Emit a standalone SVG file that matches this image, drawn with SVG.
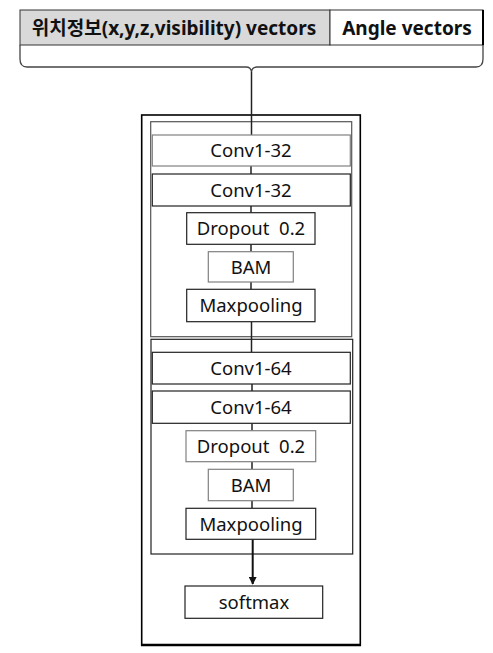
<svg xmlns="http://www.w3.org/2000/svg" width="493" height="653" viewBox="0 0 493 653">
<defs>
<style>
.t{font-family:"Noto Sans","Noto Sans CJK KR",sans-serif;font-size:18.5px;fill:#111;text-anchor:middle;white-space:pre}
.h{font-family:"Noto Sans","Noto Sans CJK KR",sans-serif;font-size:19px;font-weight:bold;fill:#111;text-anchor:middle}
.bk{fill:#fff;stroke:#222;stroke-width:1.2}
.gy{fill:#fff;stroke:#808080;stroke-width:1.2}
.c{stroke:#222;stroke-width:1.5;fill:none}
</style>
<marker id="ah" viewBox="0 0 10 10" refX="9" refY="5" markerWidth="4" markerHeight="4" orient="auto"><path d="M0,0 L10,5 L0,10 z" fill="#111"/></marker>
</defs>
<rect width="493" height="653" fill="#fff"/>
<g id="header">
<rect x="20" y="10" width="310" height="35" fill="#d9d9d9" stroke="#333" stroke-width="1"/>
<rect x="330" y="10" width="153" height="35" fill="#fff" stroke="#333" stroke-width="1"/>
<line x1="483" y1="10" x2="483" y2="45" stroke="#000" stroke-width="2"/>
<text class="h" x="174" y="35">위치정보(x,y,z,visibility) vectors</text>
<text class="h" x="407" y="35">Angle vectors</text>
</g>
<g id="brace">
<path d="M20,45 L20,59 Q20,67 27,67 L246,67 Q251,67 251.5,72 Q252,67 257,67 L476,67 Q483,67 483,59 L483,45" fill="none" stroke="#444" stroke-width="1.3"/>
</g>
<g id="outer"><rect x="141.7" y="115" width="218.6" height="530" fill="none" stroke="#000" stroke-width="1.6"/><line x1="141" y1="645" x2="361" y2="645" stroke="#000" stroke-width="2.5"/></g>
<g id="block1"><rect x="150.7" y="121.7" width="201" height="215" fill="none" stroke="#555" stroke-width="1.2"/></g>
<g id="block2"><rect x="151" y="339.3" width="201.7" height="214.7" fill="none" stroke="#222" stroke-width="1.2"/></g>
<g id="connectors">
<line class="c" x1="251.5" y1="72" x2="251.5" y2="135"/>
<line class="c" x1="251" y1="166" x2="251" y2="174"/>
<line class="c" x1="251" y1="206" x2="251" y2="212.7"/>
<line class="c" x1="251" y1="244.3" x2="251" y2="251.7"/>
<line class="c" x1="251" y1="282" x2="251" y2="289.3"/>
<line class="c" x1="251.5" y1="321.7" x2="251.5" y2="352.3"/>
<line class="c" x1="252" y1="384" x2="252" y2="391"/>
<line class="c" x1="252" y1="423.3" x2="252" y2="430.7"/>
<line class="c" x1="252" y1="461.7" x2="252" y2="469.3"/>
<line class="c" x1="252" y1="500.7" x2="252" y2="508.3"/>
<line x1="252.7" y1="539.3" x2="252.7" y2="584" stroke="#111" stroke-width="2" marker-end="url(#ah)"/>
</g>
<g id="conv1a"><rect class="gy" x="152.3" y="135" width="198" height="31"/><text class="t" x="251" y="157">Conv1-32</text></g>
<g id="conv1b"><rect class="bk" x="152.3" y="174" width="198" height="32"/><text class="t" x="251" y="196.5">Conv1-32</text></g>
<g id="drop1"><rect class="bk" x="186.7" y="212.7" width="128.3" height="31.6"/><text class="t" x="251" y="235" xml:space="preserve">Dropout  0.2</text></g>
<g id="bam1"><rect class="gy" x="208.3" y="251.7" width="85" height="30.3"/><text class="t" x="251" y="273.5">BAM</text></g>
<g id="pool1"><rect class="bk" x="186.7" y="289.3" width="128.3" height="32.4"/><text class="t" x="251" y="312">Maxpooling</text></g>
<g id="conv2a"><rect class="bk" x="152.3" y="352.3" width="198" height="31.7"/><text class="t" x="251" y="374.5">Conv1-64</text></g>
<g id="conv2b"><rect class="bk" x="152.3" y="391" width="198" height="32.3"/><text class="t" x="251" y="413.5">Conv1-64</text></g>
<g id="drop2"><rect class="gy" x="186" y="430.7" width="129.7" height="31"/><text class="t" x="251" y="452.5" xml:space="preserve">Dropout  0.2</text></g>
<g id="bam2"><rect class="gy" x="208.3" y="469.3" width="85" height="31.4"/><text class="t" x="251" y="491.5">BAM</text></g>
<g id="pool2"><rect class="bk" x="186" y="508.3" width="129.7" height="31"/><text class="t" x="251" y="530.5">Maxpooling</text></g>
<g id="softmax"><rect class="bk" x="185" y="586" width="137.7" height="32.3"/><text class="t" x="254" y="608.5">softmax</text></g>
</svg>
